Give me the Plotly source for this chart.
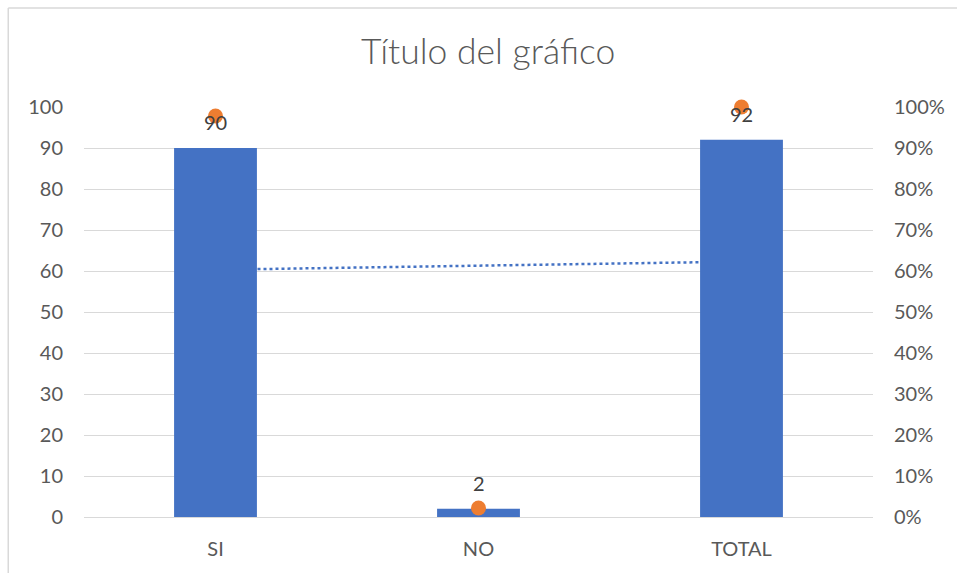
import plotly.graph_objects as go

# === Datos ===
categorias = ["SI", "NO", "TOTAL"]
valores = [90, 2, 92]
porcentajes = [0.978, 0.022, 1.0]
tendencia_x = ["SI", "TOTAL"]
tendencia_y = [60.3, 62.3]

azul = "#4472C4"
naranja = "#ED7D31"
gris_txt = "#595959"
gris_lin = "#D9D9D9"
fuente = "Lato"

fig = go.Figure()

# línea de tendencia (detrás de las barras)
fig.add_trace(go.Scatter(
    x=tendencia_x, y=tendencia_y, mode="lines", yaxis="y",
    line=dict(color=azul, width=2.5, dash="dot"), showlegend=False, hoverinfo="skip"))

# barras
fig.add_trace(go.Bar(
    x=categorias, y=valores, yaxis="y2", width=0.315,
    marker=dict(color=azul, line=dict(width=0)), showlegend=False))

# puntos de porcentaje (eje secundario)
fig.add_trace(go.Scatter(
    x=categorias, y=porcentajes, mode="markers", yaxis="y3",
    marker=dict(color=naranja, size=15), showlegend=False, cliponaxis=False))

# etiquetas de datos
for c, v in zip(categorias, valores):
    fig.add_annotation(x=c, y=v, yref="y", text=str(v), showarrow=False, yshift=26,
                       font=dict(family=fuente, size=20, color="#404040"))

# marco del gráfico (solo arriba e izquierda visibles)
fig.add_shape(type="line", xref="paper", yref="paper", x0=-0.096, x1=1.2, y0=1.2415, y1=1.2415,
              line=dict(color=gris_lin, width=1.5))
fig.add_shape(type="line", xref="paper", yref="paper", x0=-0.096, x1=-0.096, y0=1.2415, y1=-0.2,
              line=dict(color=gris_lin, width=1.5))

fig.update_layout(
    width=957, height=573,
    margin=dict(l=84, r=81, t=107, b=56),
    paper_bgcolor="white", plot_bgcolor="white",
    font=dict(family=fuente, color=gris_txt),
    title=dict(text="Título del gráfico", x=0.51, xanchor="center", y=0.91, yanchor="middle",
               font=dict(family=fuente, size=35.5, color=gris_txt, weight=300)),
    xaxis=dict(type="category", categoryorder="array", categoryarray=categorias,
               showgrid=False, showline=True, linecolor=gris_lin, linewidth=1,
               ticks="", tickfont=dict(size=20, color=gris_txt), ticklabelstandoff=14,
               range=[-0.5, 2.5]),
    yaxis=dict(range=[0, 100], dtick=10, showgrid=True, gridcolor=gris_lin, gridwidth=1,
               zeroline=False, showline=False, ticks="", tickfont=dict(size=20, color=gris_txt),
               ticklabelstandoff=20),
    yaxis2=dict(range=[0, 100], overlaying="y", visible=False),
    yaxis3=dict(range=[0, 1], dtick=0.1, tickformat=".0%", overlaying="y", side="right",
                showgrid=False, zeroline=False, showline=False, ticks="",
                tickfont=dict(size=20, color=gris_txt), ticklabelstandoff=20),
)

fig.write_html("out.html", config={"displayModeBar": False},
               post_script="document.body.style.margin='0';")
